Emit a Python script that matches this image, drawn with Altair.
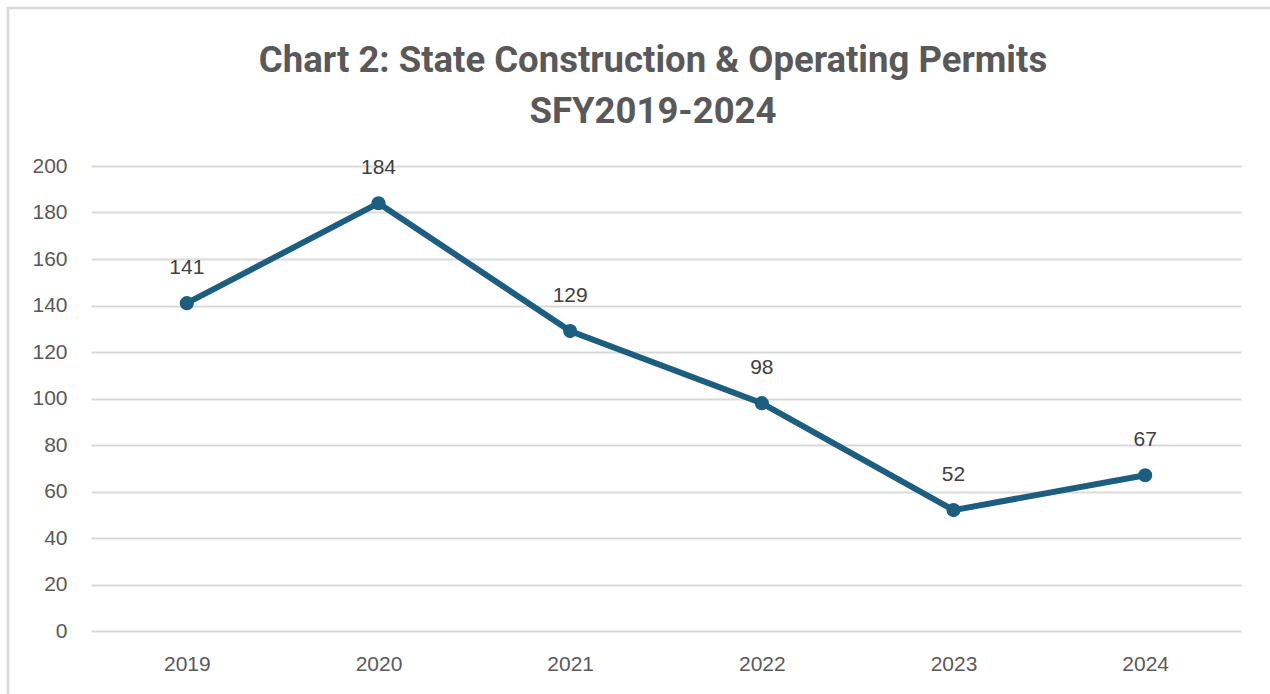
import altair as alt
import pandas as pd

years = ["2019", "2020", "2021", "2022", "2023", "2024"]
permits = [141, 184, 129, 98, 52, 67]
y_ticks = [0, 20, 40, 60, 80, 100, 120, 140, 160, 180, 200]
title_lines = ["Chart 2: State Construction & Operating Permits", "SFY2019-2024"]

df = pd.DataFrame({"year": years, "permits": permits})

LINE = "#1B5E7F"
TXT = "#595959"

x = alt.X("year:O", sort=years,
          scale=alt.Scale(type="point", padding=0.5),
          axis=alt.Axis(title=None, labelAngle=0, labelFontSize=21, labelColor=TXT,
                        labelFont="Liberation Sans", labelPadding=22, ticks=False,
                        domain=False, grid=False))
y = alt.Y("permits:Q",
          scale=alt.Scale(domain=[0, 200], nice=False),
          axis=alt.Axis(title=None, values=y_ticks, labelFontSize=21, labelColor=TXT,
                        labelFont="Liberation Sans", labelPadding=24, ticks=False,
                        domain=False, grid=True, gridColor="#d9d9d9", gridWidth=2))

base = alt.Chart(df)
line = base.mark_line(color=LINE, strokeWidth=6).encode(x=x, y=y)
pts = base.mark_point(filled=True, color=LINE, size=200, opacity=1).encode(x=x, y=y)
labels = base.mark_text(dy=-35, fontSize=21, color="#404040", font="Liberation Sans",
                        baseline="middle").encode(x=x, y=y, text="permits:Q")

border = alt.Chart(pd.DataFrame({"a": [0]})).mark_rect(
    fill=None, stroke="#d9d9d9", strokeWidth=2.5
).encode(x=alt.value(-83), x2=alt.value(1300), y=alt.value(-158), y2=alt.value(700))

chart = alt.layer(border, line, pts, labels).properties(
    width=1150, height=465,
    background="white",
    title=alt.TitleParams(text=title_lines, fontSize=36.5, font="Roboto", fontWeight="bold",
                          color=TXT, anchor="middle", lineHeight=51, offset=-124, dx=-13,
                          frame="group"),
    padding={"left": 91, "top": 166, "right": 29, "bottom": 63},
    autosize=alt.AutoSizeParams(type="none"),
).configure_view(strokeWidth=0, stroke="transparent")

chart.save("out.html", embed_options={"renderer": "svg", "actions": False})
